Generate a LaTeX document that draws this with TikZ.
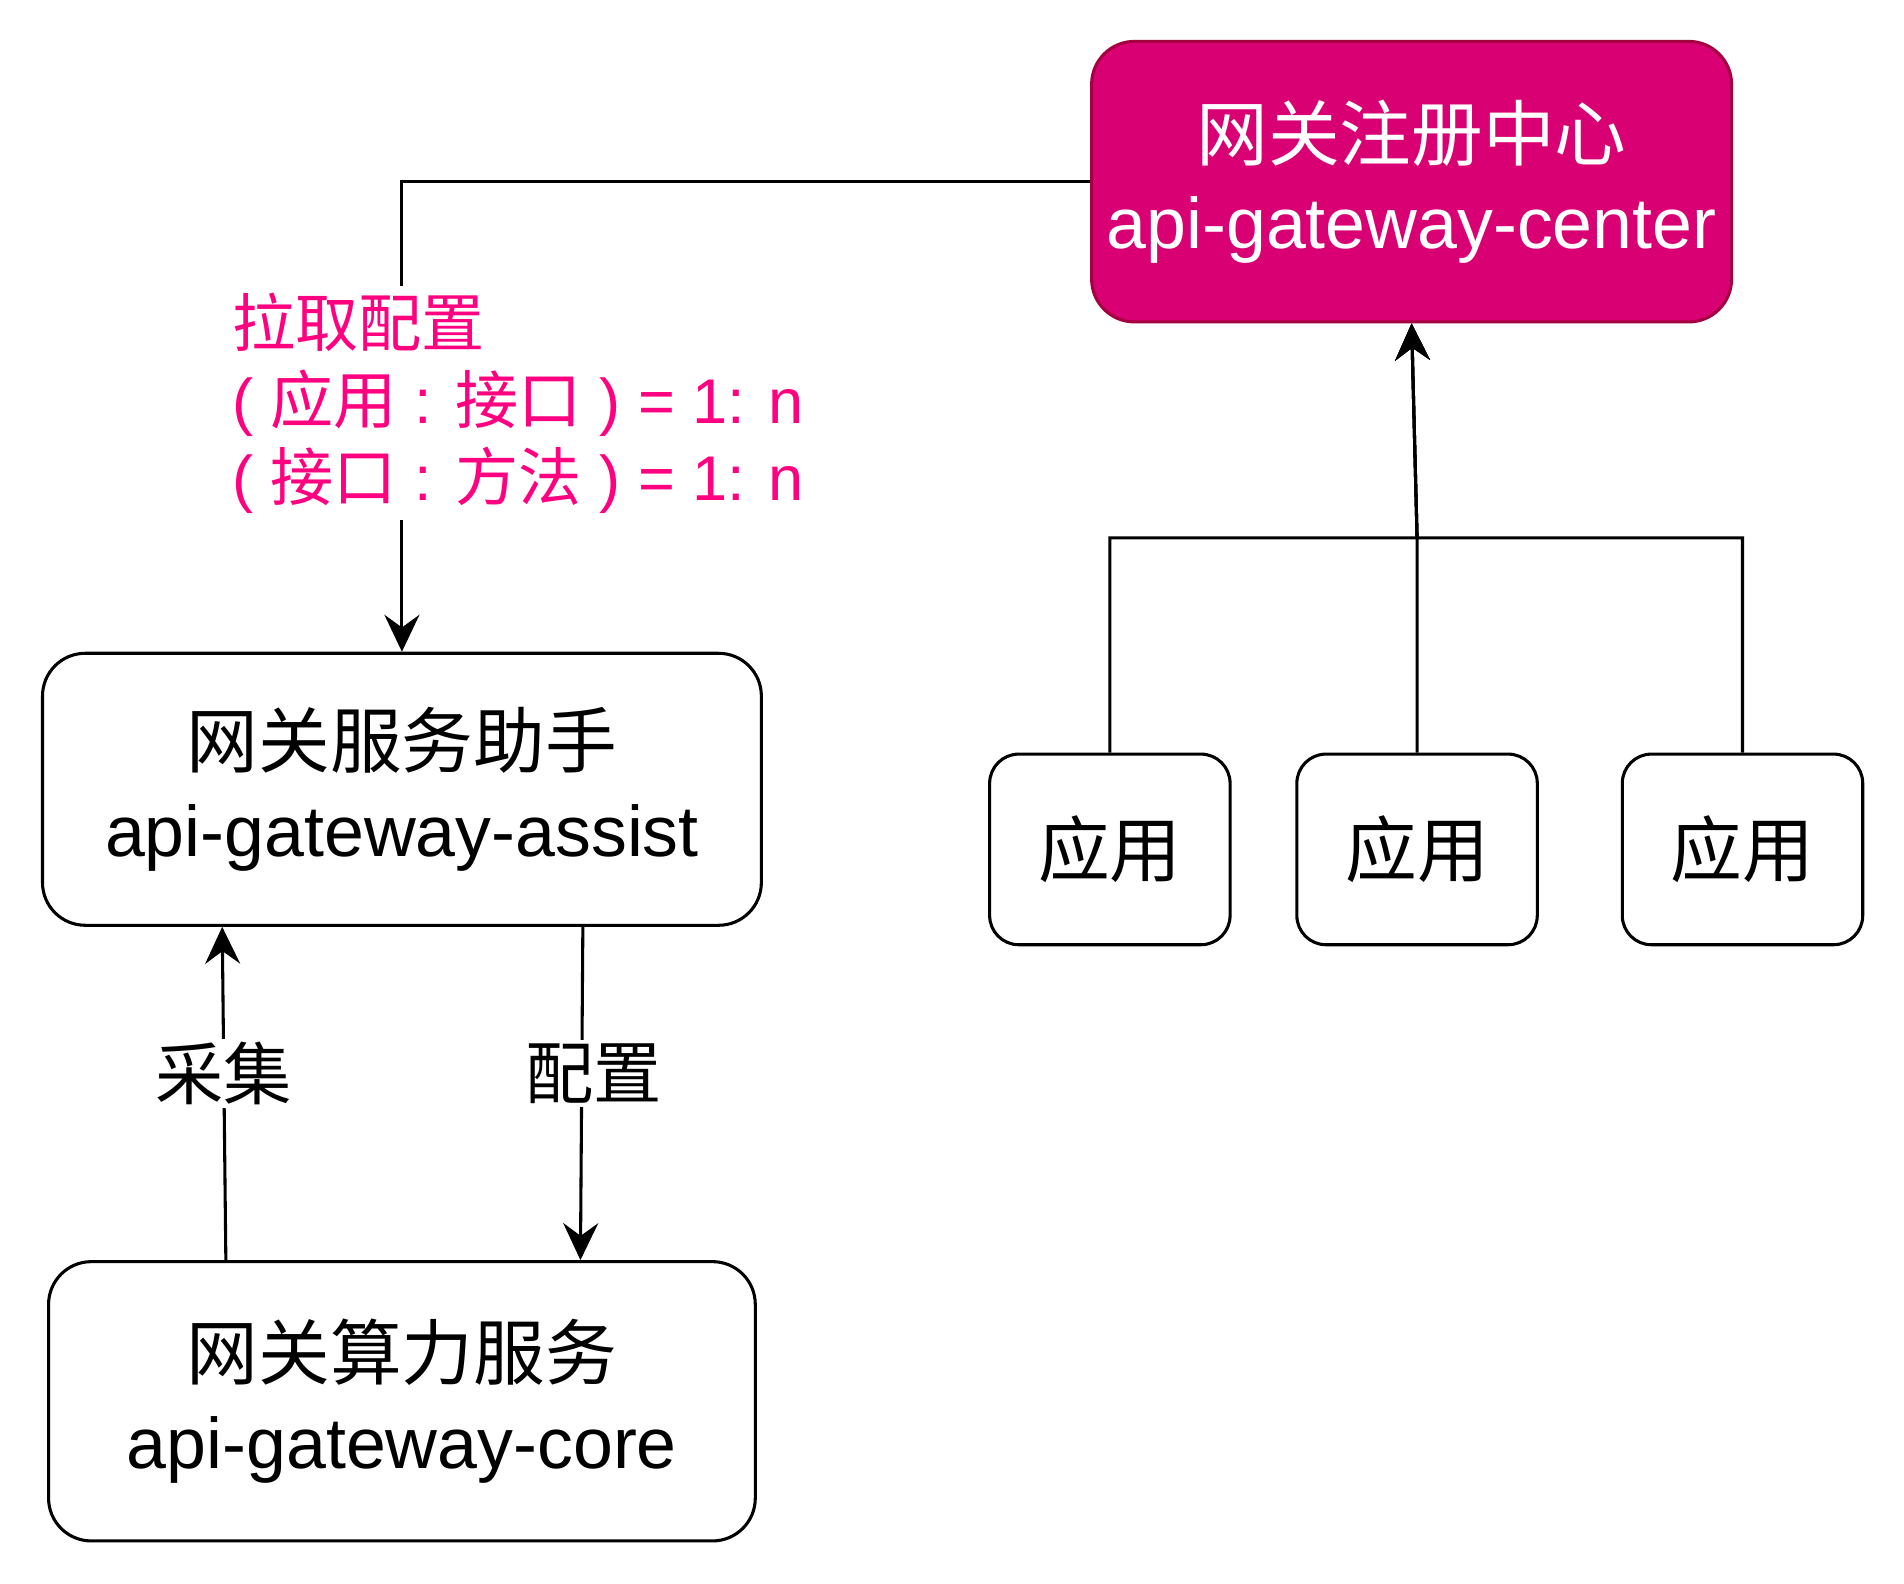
\documentclass[tikz,border=0pt]{standalone}
\usepackage{fontspec}
\setmainfont{Liberation Sans}
\newfontfamily\cjk{Noto Sans CJK SC}
\usetikzlibrary{arrows.meta}
\definecolor{centerfill}{HTML}{D80073}
\definecolor{centerline}{HTML}{A50040}
\definecolor{pulltext}{HTML}{FF0080}

\begin{document}
\begin{tikzpicture}[>={Stealth[length=3.8mm,width=3.6mm,inset=1.3mm]}, line width=0.9pt,
	box/.style={draw, rounded corners=4.4mm, align=center, inner sep=0pt, font=\fontsize{21}{26}\selectfont},
	appbox/.style={draw, rounded corners=3mm, minimum width=2.475cm, minimum height=1.9625cm, font=\cjk\fontsize{21}{25}\selectfont},
	lbl/.style={fill=white, inner sep=1pt, font=\cjk\fontsize{20}{24}\selectfont}]
	\useasboundingbox (0,0) rectangle (19.6,16.3);
	\node[box, fill=centerfill, draw=centerline, text=white, minimum width=6.5875cm, minimum height=2.8875cm] (center) at (14.531,14.43) {{\cjk 网关注册中心}\\api-gateway-center};
	\node[box, minimum width=7.4cm, minimum height=2.8cm] (assist) at (4.1375,8.175) {{\cjk 网关服务助手}\\api-gateway-assist};
	\node[box, minimum width=7.275cm, minimum height=2.875cm] (core) at (4.1375,1.875) {{\cjk 网关算力服务}\\api-gateway-core};
	\foreach \x/\n in {11.425/1, 14.5875/2, 17.9375/3}
		\node[appbox] (app\n) at (\x,7.556) {应用};
	\coordinate (join) at (14.5875,10.7625);
	\foreach \n in {1,2,3}
		\draw[->] (app\n.north) |- (join) -- (center.south);
	\draw[->] (center.west) -| (assist.north);
	\node[anchor=west, fill=white, text=pulltext, align=left, inner xsep=0pt, inner ysep=2pt, font=\fontsize{18.5}{22.5}\selectfont] (pull) at (2.375,12.15) {{\cjk 拉取配置}\\( {\cjk 应用} : {\cjk 接口} ) = 1: n\\( {\cjk 接口} : {\cjk 方法} ) = 1: n};
	\draw[->] ([xshift=-1.8125cm]core.north) -- node[lbl, pos=0.56]{采集} ([xshift=-1.85cm]assist.south);
	\draw[->] ([xshift=1.8625cm]assist.south) -- node[lbl, pos=0.44, xshift=1.2mm]{配置} ([xshift=1.8375cm]core.north);
\end{tikzpicture}
\end{document}
